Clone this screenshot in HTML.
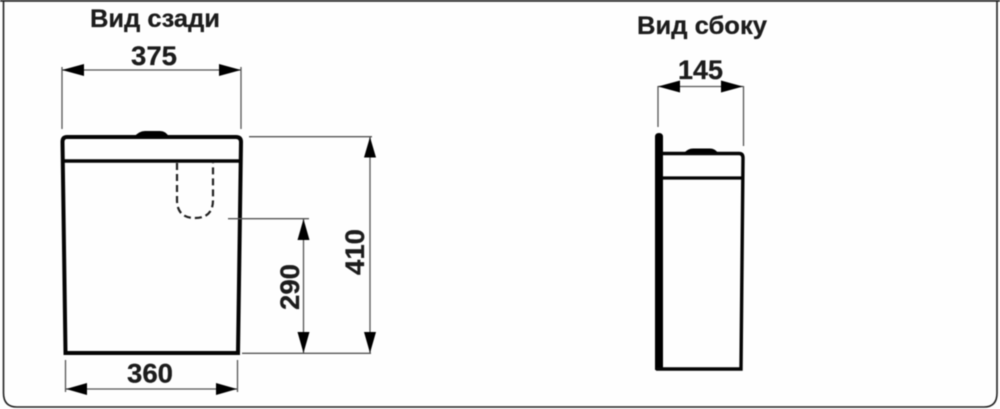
<!DOCTYPE html>
<html lang="ru">
<head>
<meta charset="utf-8">
<style>
html,body{margin:0;padding:0;background:#fff;width:1000px;height:409px;overflow:hidden}
svg{display:block;filter:blur(.4px)}
text{font-family:"Liberation Sans",sans-serif;font-weight:700;fill:#1c1c1c;stroke:#1c1c1c;stroke-width:.25;text-anchor:middle}
.d{stroke:#555;stroke-width:1.3;fill:none}
.b{stroke:#050505;fill:none;stroke-width:4}
.a{fill:#000;stroke:none}
</style>
</head>
<body>
<svg width="1000" height="409" viewBox="0 0 1000 409" xmlns="http://www.w3.org/2000/svg">
<rect width="1000" height="409" fill="#fefefe"/>
<path d="M3.500 -8V393Q3.500 407 17 407H984Q997 407 997 393V-8" fill="none" stroke="#222" stroke-width="1.600"/>
<path d="M0 .500H1000" stroke="#222" stroke-width="2.400"/>

<text x="155" y="27" font-size="25" textLength="130" lengthAdjust="spacingAndGlyphs">Вид сзади</text>
<text x="702" y="34" font-size="25" textLength="130" lengthAdjust="spacingAndGlyphs">Вид сбоку</text>
<text x="154" y="65" font-size="26.500" textLength="46" lengthAdjust="spacingAndGlyphs">375</text>
<text x="700.500" y="79" font-size="26.500" textLength="45" lengthAdjust="spacingAndGlyphs">145</text>
<text x="150" y="382.500" font-size="26.500" textLength="46" lengthAdjust="spacingAndGlyphs">360</text>
<text transform="translate(299 287) rotate(-90)" font-size="26.500" textLength="46" lengthAdjust="spacingAndGlyphs">290</text>
<text transform="translate(364 252) rotate(-90)" font-size="26.500" textLength="46" lengthAdjust="spacingAndGlyphs">410</text>

<!-- rear view -->
<path class="b" d="M65.500 353L62.500 142Q62.500 137 67 137H236Q241 137 241 142L238 353Z"/>
<path d="M63 161H240" stroke="#050505" stroke-width="3.600" fill="none"/>
<path d="M134 137Q139 131 145 131H160Q166 131 169 137Z" fill="#000"/>
<path d="M177 163V200Q177 218 195 218Q213 218 213 200V163" fill="none" stroke="#222" stroke-width="2.200" stroke-dasharray="7 4"/>

<!-- 375 -->
<path class="d" d="M62 67V129M241 67V129M62 70H241"/>
<path class="a" d="M62 70L84 64V76ZM241 70L219 64V76Z"/>
<!-- 360 -->
<path class="d" d="M65.500 360V392M237.500 360V392M66 389H237"/>
<path class="a" d="M66 389L87 383V395ZM237 389L216 383V395Z"/>
<!-- 410 -->
<path class="d" d="M249 136.700H372M242 353.300H371M370 137V353"/>
<path class="a" d="M370 137L376 157.500H364ZM370 353L364 332H376Z"/>
<!-- 290 -->
<path class="d" d="M228 218.700H309M303.500 219V353"/>
<path class="a" d="M303.500 219L309.500 240H297.500ZM303.500 353L297.500 332H309.500Z"/>

<!-- side view -->
<path d="M655 370V137Q655 133 659 133Q663 133 663 137V370Z" fill="#000"/>
<path d="M662 153.500H739Q743 153.500 743 158L741 369H656" fill="none" stroke="#050505" stroke-width="3.400"/>
<path d="M662 178H742" stroke="#050505" stroke-width="3.200" fill="none"/>
<path d="M684 153Q688 148.500 693 148.500H710Q715 148.500 718 153Z" fill="#000"/>
<!-- 145 -->
<path class="d" d="M658 86V127M743.500 86V146M658 86.500H743"/>
<path class="a" d="M658 86.500L680 80.500V92.500ZM743 86.500L721 80.500V92.500Z"/>
</svg>
</body>
</html>
